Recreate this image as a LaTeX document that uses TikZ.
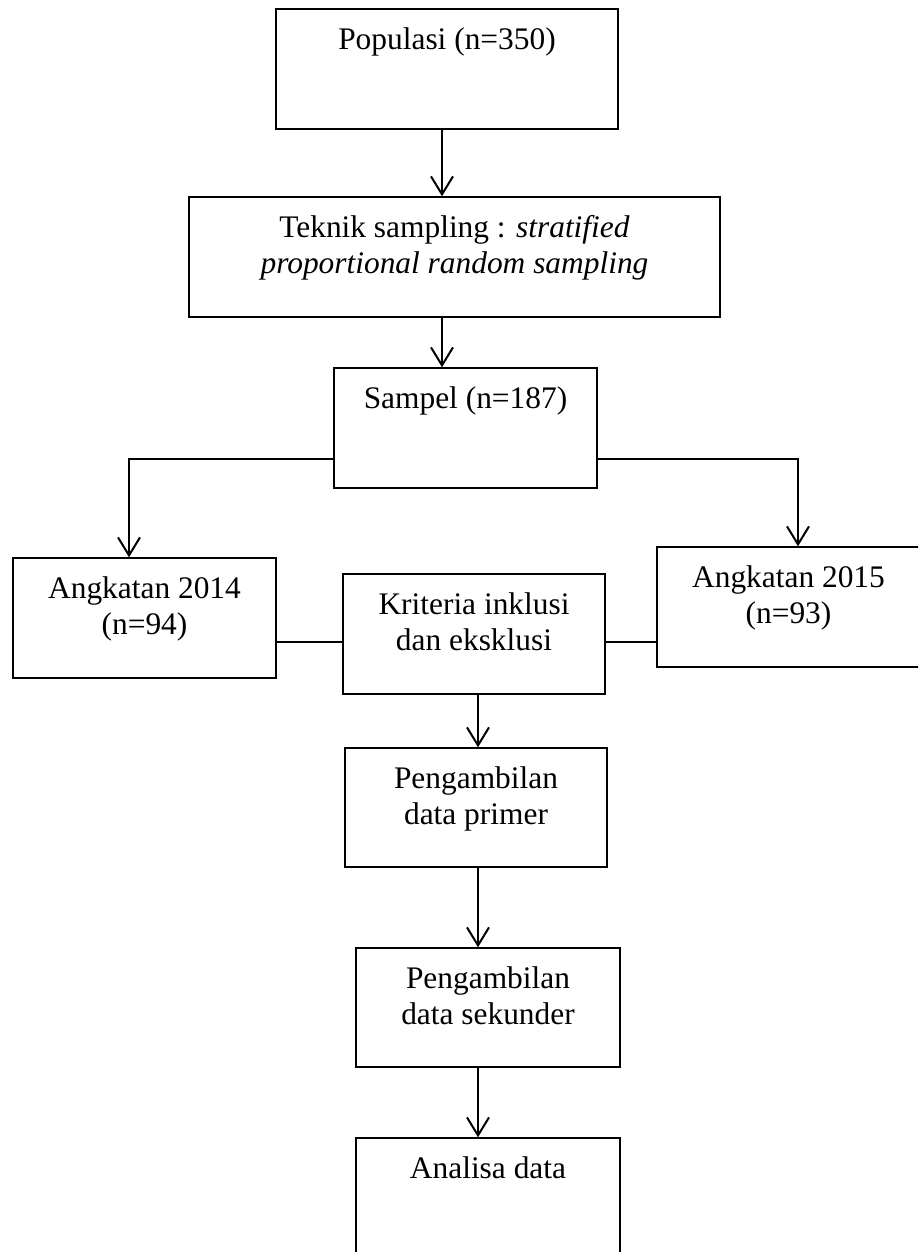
\documentclass[tikz,border=0pt]{standalone}
\usepackage{fontspec}
\setmainfont{Liberation Serif}
\usetikzlibrary{arrows.meta}

\tikzset{
  box/.style={draw=black, line width=0.7pt, minimum height=60pt, inner sep=0pt},
  ttl/.style={anchor=north, align=center, inner sep=0pt, yshift=-9.5pt, font=\fontsize{15.7pt}{18pt}\selectfont},
  arr/.style={-{Straight Barb[length=9pt,width=11pt]}, line width=1pt},
  lnk/.style={-, line width=1pt}
}

\begin{document}
\begin{tikzpicture}[x=0.5pt, y=-0.5pt]
\useasboundingbox (0,0) rectangle (918,1252);
\clip (0,0) rectangle (918,1252);
% columns of the arrows
\coordinate (c1) at (442,0);
\coordinate (c2) at (478,0);
\coordinate (cl) at (129,459);
\coordinate (cr) at (798,459);
\coordinate (cm) at (0,642);
% boxes
\node[box, minimum width=171pt, label={[ttl]north:Populasi (n=350)}] (pop) at (447,69) {};
\node[box, minimum width=265.5pt, label={[ttl]north:Teknik sampling : \textit{stratified}\\\textit{proportional random sampling}}] (tek) at (454.5,257) {};
\node[box, minimum width=131.5pt, label={[ttl]north:Sampel (n=187)}] (samp) at (465.5,428) {};
\node[box, minimum width=131.5pt, label={[ttl]north:Angkatan 2014\\(n=94)}] (a14) at (144.5,618) {};
\node[box, minimum width=131pt, label={[ttl]north:Kriteria inklusi\\dan eksklusi}] (krit) at (474,634) {};
\node[box, minimum width=131.5pt, label={[ttl]north:Angkatan 2015\\(n=93)}] (a15) at (788.5,607) {};
\node[box, minimum width=131pt, minimum height=59.5pt, label={[ttl]north:Pengambilan\\data primer}] (prim) at (476,807.5) {};
\node[box, minimum width=132pt, minimum height=59.5pt, label={[ttl]north:Pengambilan\\data sekunder}] (sek) at (488,1007.5) {};
\node[box, minimum width=132pt, label={[ttl]north:Analisa data}] (anal) at (488,1198) {};
% connectors
\draw[arr] (pop.south -| c1) -- (tek.north -| c1);
\draw[arr] (tek.south -| c1) -- (samp.north -| c1);
\draw[arr] (samp.west |- cl) -| (a14.north -| cl);
\draw[arr] (samp.east |- cr) -| (a15.north -| cr);
\draw[lnk] (a14.east |- cm) -- (krit.west |- cm);
\draw[lnk] (krit.east |- cm) -- (a15.west |- cm);
\draw[arr] (krit.south -| c2) -- (prim.north -| c2);
\draw[arr] (prim.south -| c2) -- (sek.north -| c2);
\draw[arr] (sek.south -| c2) -- (anal.north -| c2);
\end{tikzpicture}
\end{document}
